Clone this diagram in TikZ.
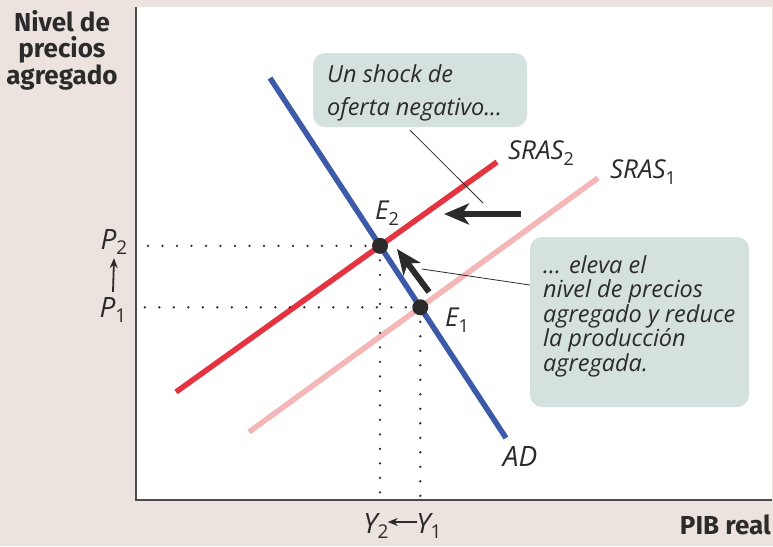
\documentclass[tikz,border=0pt]{standalone}
\usepackage{fontspec}
\setmainfont{Open Sans}
\newfontfamily\boldsans{Fira Sans}
\usetikzlibrary{arrows.meta,calc,intersections}
\definecolor{bgc}{HTML}{EDE3DE}
\definecolor{callc}{HTML}{D5E1DF}
\definecolor{adblue}{HTML}{3D5AA8}
\definecolor{sredc}{HTML}{E5333F}
\definecolor{spinkc}{HTML}{F4B6B6}
\definecolor{darkc}{HTML}{2B2B2B}
\newcommand\sbs[1]{\raisebox{-0.4ex}{\fontsize{18}{18}\selectfont\upshape #1}}
\newcommand\sbb[1]{\raisebox{-0.4ex}{\fontsize{19}{19}\selectfont\upshape #1}}
\begin{document}
\begin{tikzpicture}[x=1pt,y=-1pt,
  lbl/.style={font=\fontsize{26}{28}\selectfont\itshape, inner sep=0pt, text=darkc},
  biglbl/.style={font=\fontsize{28}{30}\selectfont\itshape, inner sep=0pt, text=darkc},
  axlbl/.style={font=\boldsans\bfseries\fontsize{26}{26.5}\selectfont, inner sep=0pt, text=darkc, align=center},
  curve/.style={line width=5.5pt},
  dotline/.style={line width=2.6pt, dash pattern=on 0pt off 14.5pt, line cap=round, darkc},
  eqdot/.style={circle, fill=darkc, minimum size=16pt, inner sep=0pt},
  callbox/.style={fill=callc, rounded corners=12pt, inner sep=0pt},
  calltext/.style={font=\fontsize{23.5}{24.5}\selectfont\itshape, inner sep=0pt, align=left, text=darkc, anchor=north west},
  leader/.style={line width=0.8pt, darkc},
  bigarrow/.style={line width=6pt, darkc, -{Stealth[length=25pt,width=21pt,inset=7pt]}},
  smallarrow/.style={line width=1.8pt, darkc, -{Stealth[length=10pt,width=8pt]}}]
\useasboundingbox (0,0) rectangle (773,546);
\fill[bgc] (0,0) rectangle (773,546);
\fill[white] (136,7) rectangle (772,500);
\draw[line width=2pt, darkc!85] (136,7) -- (136,500) -- (772,500);

% curves
\draw[curve, spinkc, name path=s1] (249,432) -- (598,178);
\draw[curve, sredc, name path=s2] (176,392) -- (497,162);
\draw[curve, adblue, name path=ad] (270,78) -- (506,438);
\path[name intersections={of=ad and s2, by=i2}];
\path[name intersections={of=ad and s1, by=i1}];

% dotted guide lines
\draw[dotline] (i2) -- (141,0 |- i2);
\draw[dotline] (i1) -- (141,0 |- i1);
\draw[dotline] (i2) -- (i2 |- 0,498);
\draw[dotline] (i1) -- (i1 |- 0,498);

\node[eqdot] (E2) at (i2) {};
\node[eqdot] (E1) at (i1) {};

% labels
\node[lbl] (sras2) at (541,153) {SRAS\sbs{2}};
\node[lbl] (sras1) at (643,172) {SRAS\sbs{1}};
\node[lbl] (e2l) at (387,213) {E\sbs{2}};
\node[lbl] (e1l) at (457,320) {E\sbs{1}};
\node[biglbl] (adl) at (520,456) {AD};
\node[biglbl] (p2) at (114,242) {P\sbb{2}};
\node[biglbl] (p1) at (113,310) {P\sbb{1}};
\draw[smallarrow] ($(p1.north)+(0,-5)$) -- ($(p2.south)+(0,3)$);
\node[biglbl] (y2) at (376,526) {Y\sbb{2}};
\node[biglbl] (y1) at (429,526) {Y\sbb{1}};
\draw[smallarrow] ($(y1.west)+(1,-4)$) -- ($(y2.east)+(-1,-4)$);
\node[axlbl] (ylab) at (62,50) {Nivel de\\precios\\agregado};
\node[axlbl, anchor=east] (xlab) at (771,525) {PIB real};

% callout 1
\node[callbox, minimum width=214pt, minimum height=74pt] (c1) at (420,90) {};
\node[calltext, font=\fontsize{23.5}{33}\selectfont\itshape] (c1t) at (327,64) {Un shock de\\oferta negativo...};
\coordinate (c1end) at (483,203);
\draw[leader] ($(c1.south)+(-10,3)$) -- (c1end);

% callout 2
\node[callbox, minimum width=219pt, minimum height=170pt] (c2) at (639.5,322) {};
\node[calltext] (c2t) at (543,255) {... eleva el\\nivel de precios\\agregado y reduce\\la producción\\agregada.};
\coordinate (c2end) at (422,269);
\draw[leader] ($(c2.west)+(0,-37)$) -- (c2end);

% shift arrows
\coordinate (h1a) at (521,214);
\coordinate (h1b) at (444,214);
\draw[bigarrow] (h1a) -- (h1b);
\coordinate (h2a) at (429,292);
\coordinate (h2b) at (397,249);
\draw[bigarrow] (h2a) -- (h2b);
\end{tikzpicture}
\end{document}
